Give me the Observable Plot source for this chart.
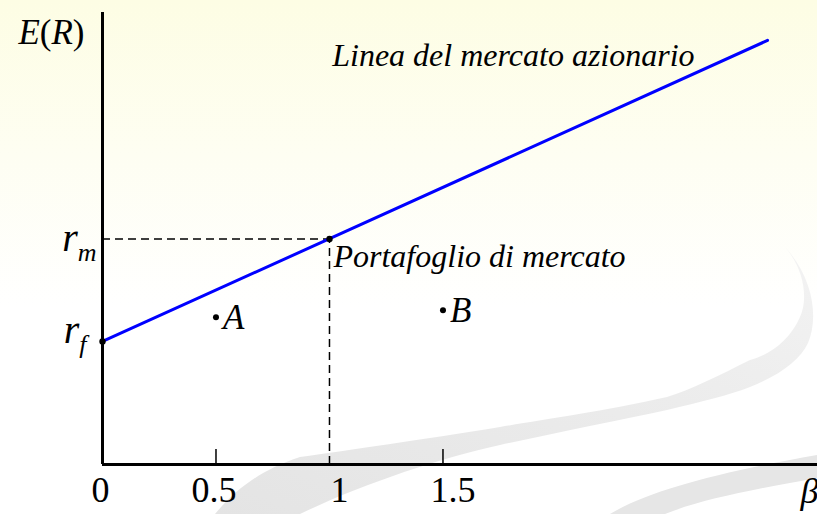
<!DOCTYPE html>
<html><head><meta charset="utf-8">
<script src="https://cdn.jsdelivr.net/npm/d3@7"></script>
<script src="https://cdn.jsdelivr.net/npm/@observablehq/plot@0.6"></script>
<style>
html,body{margin:0;padding:0;background:#fff;}
#wrap{position:relative;width:817px;height:514px;overflow:hidden;background:linear-gradient(#fdfde4 0%, #fefef2 30%, #ffffff 60%);}
#bg{position:absolute;left:0;top:0;}
#chart{position:absolute;left:0;top:0;}
</style></head><body>
<div id="wrap">
<svg id="bg" width="817" height="514">
  <defs>
    <linearGradient id="sw" x1="0" y1="1" x2="1" y2="0">
      <stop offset="0" stop-color="#e4e4e4"/>
      <stop offset="0.6" stop-color="#ececec"/>
      <stop offset="1" stop-color="#f3f3f3"/>
    </linearGradient>
  </defs>
  <path fill="url(#sw)" d="M785,247 C805,270 808,300 800,317 C790,340 770,355 750,360 C720,375 690,390 667,397 C600,412 540,420 500,427 C420,440 350,450 300,457 C260,470 235,490 215,514 L300,514 C360,485 440,458 500,445 C560,432 620,420 667,410 C700,402 730,395 750,387 C780,375 800,360 808,343 C818,320 815,280 785,247 Z"/>
  <path fill="#e6e6e6" d="M610,514 C650,490 720,472 817,455 L817,478 C750,490 700,500 665,514 Z"/>
</svg>
<div id="chart"></div>
</div>
<script>
// ---- data ----
const rf = 3;            // risk-free rate (y-axis intercept)
const rm = 5.5;          // market return at beta = 1
const betaTicksLow = [0, 0.5];
const tickLabelsLow = ["0", "0.5"];
const betaTicksHigh = [1, 1.5];
const tickLabelsHigh = ["1", "1.5"];
const minorTicks = [0.5, 1.5];
const smlBeta = [0, 2.93];
const smlER = [3, 10.34];
const keyNames = ["rf", "M"];
const keyBeta = [0, 1];
const keyER = [3, 5.5];
const portNames = ["A", "B"];
const portBeta = [0.5, 1.5];
const portER = [3.59, 3.76];

const sml = smlBeta.map((b, i) => ({beta: b, er: smlER[i]}));
const keyPts = keyNames.map((n, i) => ({name: n, beta: keyBeta[i], er: keyER[i]}));
const ports = portNames.map((n, i) => ({name: n, beta: portBeta[i], er: portER[i]}));

const serif = '"Liberation Serif","Times New Roman",Times,serif';
const dash = "8,5";

const plot = Plot.plot({
  width: 817, height: 514,
  marginLeft: 102, marginRight: 0, marginTop: 12, marginBottom: 50,
  x: {domain: [0, 3.15], axis: null},
  y: {domain: [0, 11.02], axis: null},
  style: {background: "transparent", overflow: "visible", fontFamily: serif, color: "black"},
  marks: [
    Plot.ruleY([rm], {x1: 0, x2: 1, strokeDasharray: dash, strokeWidth: 1.5}),
    Plot.ruleX([1], {y1: 0, y2: rm, strokeDasharray: dash, strokeWidth: 1.5}),
    Plot.ruleX(minorTicks, {y1: 0, y2: 0, insetTop: -15, strokeWidth: 1.5}),
    Plot.ruleY([0], {strokeWidth: 3}),
    Plot.ruleX([0], {strokeWidth: 3}),
    Plot.line(sml, {x: "beta", y: "er", stroke: "#0000ff", strokeWidth: 3}),
    Plot.dot(keyPts, {x: "beta", y: "er", r: 3.2, fill: "black"}),
    Plot.dot(ports, {x: "beta", y: "er", r: 3, fill: "black"}),
    Plot.text(ports, {x: "beta", y: "er", text: "name", dx: 7, dy: 12, textAnchor: "start", lineAnchor: "bottom", fontSize: 35, fontStyle: "italic"}),
    Plot.text(betaTicksLow, {x: d => d, y: 0, text: (d, i) => tickLabelsLow[i], dx: -2, dy: 37, lineAnchor: "bottom", fontSize: 36}),
    Plot.text(betaTicksHigh, {x: d => d, y: 0, text: (d, i) => tickLabelsHigh[i], dx: 10, dy: 37, lineAnchor: "bottom", fontSize: 36}),
    Plot.text(["β"], {x: 3.15, y: 0, text: d => d, dx: -17, dy: 38, textAnchor: "start", lineAnchor: "bottom", fontSize: 36, fontStyle: "italic"}),
    Plot.text(["E(R)"], {x: 0, y: 11.02, text: d => d, dx: -18, dy: 31, textAnchor: "end", lineAnchor: "bottom", fontSize: 35}),
    Plot.text(["rm"], {x: 0, y: rm, text: d => d, dx: -6, dy: 12, textAnchor: "end", lineAnchor: "bottom", fontSize: 40}),
    Plot.text(["rf"], {x: 0, y: rf, text: d => d, dx: -16, dy: 2, textAnchor: "end", lineAnchor: "bottom", fontSize: 40}),
    Plot.text(["Linea del mercato azionario"], {x: smlBeta[1], y: smlER[1], text: d => d, dx: -73, dy: 26, textAnchor: "end", lineAnchor: "bottom", fontSize: 32, fontStyle: "italic"}),
    Plot.text(["Portafoglio di mercato"], {x: 1, y: rm, text: d => d, dx: 4, dy: 28, textAnchor: "start", lineAnchor: "bottom", fontSize: 32, fontStyle: "italic"})
  ]
});
document.getElementById("chart").appendChild(plot);

// rich text: italics and subscripts
d3.select(plot).selectAll("text").each(function() {
  const t = this.textContent;
  const el = d3.select(this);
  if (t === "E(R)") {
    el.text(null);
    [["E", "italic"], ["(", "normal"], ["R", "italic"], [")", "normal"]].forEach(([s, st]) => el.append("tspan").attr("font-style", st).text(s));
  } else if (t === "rm" || t === "rf") {
    el.text(null);
    el.append("tspan").attr("font-style", "italic").text("r");
    el.append("tspan").attr("font-style", "italic").attr("font-size", 26).attr("dy", 10).text(t[1]);
  }
});
</script>
</body></html>
